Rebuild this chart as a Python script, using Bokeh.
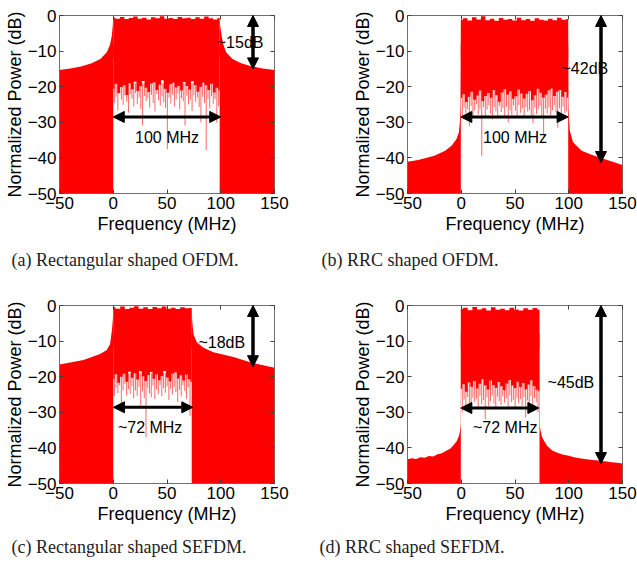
import numpy as np
from bokeh.plotting import figure
from bokeh.layouts import gridplot
from bokeh.models import Range1d, FixedTicker, LinearAxis, Arrow, NormalHead, Title
from bokeh.core.properties import value
from bokeh.embed import file_html
from bokeh.resources import INLINE

# ---------------- data ----------------
X_TICKS = [-50, 0, 50, 100, 150]
Y_TICKS = [-50, -40, -30, -20, -10, 0]
FLOOR_DB = -50

# (a) Rectangular shaped OFDM
A_left_f = [-50, -40, -30, -20, -12, -6, -3, -1.5, -0.5, 0]
A_left_db = [-15.3, -14.9, -14.3, -13.4, -12.2, -10.3, -8.2, -6.0, -3.0, -0.8]
A_right_f = [99, 99.5, 101, 102.5, 105, 111, 119, 129, 139, 150]
A_right_db = [-0.8, -3.0, -6.0, -8.2, -10.3, -12.2, -13.4, -14.3, -14.9, -15.3]
A_band = [0, 99]
A_top = [-0.6, -0.9, -0.4, -1.0, -0.7, -0.3, -0.9, -0.6, -1.1, -0.5, -0.8, -0.2, -0.9,
         -0.7, -1.0, -0.4, -0.8, -0.6, -1.0, -0.5, -0.9, -0.3, -0.8, -1.1, -0.7]
A_base = [-20.5, -19.2, -21.8, -20.1, -19.6, -22.3, -19.0, -20.7, -18.6, -21.2, -19.9, -18.4,
          -20.3, -21.5, -19.1, -18.8, -20.9, -19.4, -18.2, -20.6, -21.7, -19.3, -18.9, -20.2,
          -19.7, -21.1, -18.7, -19.8, -20.8, -18.5, -19.5, -21.4, -20.0, -18.9, -19.6, -20.9,
          -19.2, -21.6, -20.3, -21.0]
A_spike_span = [1, 98]
A_spike = [-24.5, -22.8, -26.7, -21.9, -23.6, -25.1, -22.4, -24.2, -27.3, -22.1, -23.4, -25.6,
           -21.8, -24.9, -23.0, -26.2, -30.9, -22.6, -24.0, -23.2, -25.9, -22.3, -24.6, -27.0,
           -22.0, -23.8, -25.3, -22.7, -24.4, -26.0, -37.5, -23.1, -24.8, -22.2, -25.5, -23.6,
           -21.9, -26.4, -23.3, -24.1, -30.9, -22.5, -25.0, -23.7, -26.8, -22.4, -24.3, -23.0,
           -25.7, -30.0, -22.9, -24.6, -37.8, -23.4, -26.1, -22.6, -24.8, -23.5, -30.2, -25.4]

# (b) RRC shaped OFDM
B_left_f = [-50, -40, -25, -15, -9, -4.4, -2.2, -1.3, -0.8, -0.4]
B_left_db = [-41.1, -40.6, -39.4, -38.0, -36.6, -34.7, -32.8, -30.0, -26.0, -1.2]
B_right_f = [99.5, 99.9, 100.5, 101, 104, 112, 120, 130, 140, 150]
B_right_db = [-1.2, -26.0, -30.0, -32.4, -35.6, -38.0, -39.0, -40.0, -41.0, -42.0]
B_band = [-0.4, 99.5]
B_top = [-1.2, -0.8, -1.4, -0.5, -1.1, -0.2, -1.3, -0.9, -1.5, -0.7, -1.2, -1.0, -1.4,
         -0.6, -1.3, -1.0, -1.5, -0.8, -1.2, -1.4, -0.9, -1.3, -0.6, -1.2, -1.0]
B_base = [-23.2, -22.1, -24.3, -22.8, -21.4, -23.7, -22.5, -21.1, -24.0, -22.6, -21.8, -23.1,
          -20.9, -22.4, -24.2, -21.6, -20.7, -22.2, -21.3, -23.4, -22.7, -20.8, -21.9, -23.3,
          -22.0, -21.2, -23.8, -22.4, -20.6, -21.7, -23.0, -22.2, -21.0, -20.5, -22.6, -21.4,
          -20.9, -22.8, -21.5, -23.1]
B_spike_span = [1, 98]
B_spike = [-28.6, -25.9, -27.4, -26.3, -31.0, -25.5, -28.1, -26.7, -24.9, -27.8, -26.2, -39.4,
           -25.7, -28.9, -26.4, -25.2, -27.6, -29.2, -25.8, -26.9, -28.3, -25.4, -27.1, -26.0,
           -28.7, -25.6, -30.0, -26.6, -27.9, -25.3, -26.8, -28.4, -25.1, -27.3, -26.1, -28.8,
           -25.7, -27.0, -26.5, -28.2, -30.3, -25.9, -27.7, -26.3, -25.4, -28.5, -33.5, -26.2,
           -27.5, -25.8, -28.0, -26.6, -25.3, -27.2, -31.5, -26.0, -28.6, -25.6, -27.4, -26.9]

# (c) Rectangular shaped SEFDM
C_left_f = [-50, -27.7, -12.2, -6, -2.9, -1.3, -0.4, 0]
C_left_db = [-16.6, -15.3, -13.6, -12.5, -10.8, -7.0, -4.0, -0.8]
C_right_f = [73, 73.5, 74.6, 77.7, 83.9, 93.2, 111.8, 130.4, 150]
C_right_db = [-0.8, -4.5, -8.0, -10.3, -11.9, -13.1, -14.5, -16.2, -17.5]
C_band = [0, 73]
C_top = [-0.5, -0.9, -0.3, -1.0, -0.6, -0.2, -0.9, -0.5, -1.0, -0.4, -0.8, -0.3, -0.9, -0.6, -1.0,
         -0.5, -0.8, -0.7]
C_base = [-20.6, -19.3, -21.7, -20.0, -19.2, -21.4, -18.6, -20.3, -19.0, -20.8, -18.5, -19.9,
          -21.2, -19.5, -18.7, -20.6, -19.3, -21.0, -19.8, -18.4, -20.2, -21.3, -19.1, -18.8,
          -20.5, -19.6, -21.1, -19.4, -20.7, -21.5]
C_spike_span = [1, 71.4]
C_spike = [-25.4, -23.1, -24.6, -22.4, -28.2, -23.8, -22.0, -25.3, -23.5, -24.8, -22.6, -26.1,
           -23.9, -25.4, -22.8, -28.2, -24.1, -26.0, -37.0, -23.3, -24.7, -25.8, -22.5, -26.3,
           -23.6, -24.9, -22.3, -25.5, -23.2, -24.5, -22.7, -26.6, -23.4, -25.0, -22.9, -24.3,
           -27.1, -23.7, -25.6, -22.4, -24.0, -26.2, -23.0, -31.0]

# (d) RRC shaped SEFDM
D_left_f = [-50, -46, -42, -38, -34, -30, -26, -22, -18, -14, -10, -7, -4, -2, -1, -0.6, -0.4]
D_left_db = [-43.2, -42.9, -43.1, -42.6, -42.8, -42.3, -42.4, -41.8, -41.5, -40.8, -40.2, -39.2,
             -38.0, -36.5, -35.0, -33.0, -1.0]
D_right_f = [72.8, 73.2, 73.8, 75, 77, 80, 85, 90, 95, 100, 105, 110, 115, 120, 125, 130, 135, 140,
             145, 150]
D_right_db = [-1.0, -34.0, -35.2, -36.8, -38.0, -39.5, -40.8, -41.4, -41.9, -42.2, -42.6, -42.9,
              -43.1, -43.3, -43.5, -43.6, -43.8, -44.0, -44.2, -44.4]
D_band = [-0.4, 72.8]
D_top = [-1.0, -0.6, -1.3, -0.4, -1.1, -0.8, -1.4, -0.5, -1.2, -0.9, -1.3, -0.6, -1.1, -1.4, -0.8,
         -1.2, -0.7, -1.1]
D_base = [-23.4, -22.1, -24.2, -21.6, -22.8, -21.2, -23.3, -22.0, -20.7, -22.4, -23.6, -21.1,
          -22.3, -23.1, -21.5, -22.7, -23.8, -21.9, -20.9, -22.5, -23.2, -21.4, -22.9, -21.8,
          -23.5, -22.2, -21.0, -22.6, -23.7, -24.1]
D_spike_span = [1, 71.4]
D_spike = [-30.0, -26.4, -28.1, -25.7, -27.5, -29.3, -25.9, -27.0, -26.2, -28.6, -25.4, -27.8,
           -26.6, -32.0, -25.8, -28.3, -26.9, -25.3, -27.6, -28.9, -25.6, -26.8, -28.0, -25.5,
           -27.3, -26.1, -28.4, -25.2, -27.1, -26.5, -28.7, -25.9, -27.4, -26.3, -28.2, -25.7,
           -31.5, -26.7, -27.9, -25.4, -28.5, -26.0, -27.2, -30.0]

# annotations: [frequency, top dB, bottom dB] of the level arrow, its text and text position
A_level = [130, 0, -15.0]
B_level = [130, 0, -41.3]
C_level = [130, 0, -17.2]
D_level = [130, 0, -44.4]
A_level_text = ["~15dB", 118, -7.5]
B_level_text = ["~42dB", 115, -15.0]
C_level_text = ["~18dB", 101, -10.3]
D_level_text = ["~45dB", 102, -21.6]
# bandwidth arrow: [start f, end f, dB] and text
A_bw = [0, 100, -28.5]
B_bw = [-0.4, 99.4, -28.5]
C_bw = [0.2, 74, -28.6]
D_bw = [-0.4, 72.2, -28.8]
A_bw_text = ["100 MHz", 50, -34.2]
B_bw_text = ["100 MHz", 50, -34.2]
C_bw_text = ["~72 MHz", 34.3, -34.2]
D_bw_text = ["~72 MHz", 40.9, -34.2]

CAPTIONS = ["(a) Rectangular shaped OFDM.", "(b) RRC shaped OFDM.",
            "(c) Rectangular shaped SEFDM.", "(d) RRC shaped SEFDM."]

SPIKE_START = -19.0
OVERLAP_LO = -12.0
OVERLAP_HI = -8.0

# ---------------- styling ----------------
RED = "#ff0000"
SANS = "Liberation Sans"
SERIF = "Liberation Serif"


def make_panel(left_f, left_db, right_f, right_db, band, top, base, spike_span, spikes,
               level, level_text, bw, bw_text, caption,
               b_left, b_right, b_bottom, cap_offset, cap_standoff):
    p = figure(frame_width=215, frame_height=178,
               x_range=Range1d(-50, 150), y_range=Range1d(-50, 0),
               output_backend="svg", toolbar_location=None,
               min_border_left=b_left, min_border_right=b_right,
               min_border_top=15, min_border_bottom=b_bottom,
               background_fill_color="white", border_fill_color="white")
    p.grid.visible = False
    p.outline_line_color = "#707070"
    p.outline_line_width = 1

    # spectrum fill
    p.varea(x=left_f, y1=[FLOOR_DB] * len(left_f), y2=left_db, fill_color=RED)
    p.varea(x=right_f, y1=[FLOOR_DB] * len(right_f), y2=right_db, fill_color=RED)
    tx = np.linspace(band[0], band[1], len(top))
    p.varea_step(x=tx, y1=[OVERLAP_LO] * len(top), y2=top, step_mode="center", fill_color=RED)
    bx = np.linspace(band[0], band[1], len(base))
    p.varea_step(x=bx, y1=base, y2=[OVERLAP_HI] * len(base), step_mode="center", fill_color=RED)
    sx = np.linspace(spike_span[0], spike_span[1], len(spikes))
    p.segment(x0=sx, y0=[SPIKE_START] * len(spikes), x1=sx, y1=spikes,
              line_color=RED, line_width=1, line_alpha=0.6)

    # arrows
    p.add_layout(Arrow(x_start=level[0], y_start=level[1], x_end=level[0], y_end=level[2],
                       line_width=3.5, line_color="black",
                       start=NormalHead(size=11, fill_color="black", line_color="black"),
                       end=NormalHead(size=11, fill_color="black", line_color="black")))
    p.add_layout(Arrow(x_start=bw[0], y_start=bw[2], x_end=bw[1], y_end=bw[2],
                       line_width=3, line_color="black",
                       start=NormalHead(size=11, fill_color="black", line_color="black"),
                       end=NormalHead(size=11, fill_color="black", line_color="black")))
    p.text(x=[level_text[1], bw_text[1]], y=[level_text[2], bw_text[2]],
           text=[level_text[0], bw_text[0]], text_font=value(SANS), text_font_size="16px",
           text_align="center", text_baseline="middle", text_color="black")

    # axes
    for ax in (p.xaxis[0], p.yaxis[0]):
        ax.major_tick_in = 4
        ax.major_tick_out = 0
        ax.minor_tick_line_color = None
        ax.axis_line_color = None
        ax.major_tick_line_color = "#404040"
        ax.major_label_text_font = SANS
        ax.major_label_text_font_size = "17px"
        ax.major_label_text_color = "black"
        ax.axis_label_text_font = SANS
        ax.axis_label_text_font_size = "18px"
        ax.axis_label_text_font_style = "normal"
        ax.axis_label_text_color = "black"
    p.xaxis.ticker = FixedTicker(ticks=X_TICKS, minor_ticks=[])
    p.yaxis.ticker = FixedTicker(ticks=Y_TICKS, minor_ticks=[])
    p.xaxis.axis_label = "Frequency (MHz)"
    p.yaxis.axis_label = "Normalized Power (dB)"
    p.xaxis.major_label_standoff = 3
    p.xaxis.axis_label_standoff = 2
    p.yaxis.major_label_standoff = 3
    p.yaxis.axis_label_standoff = 0

    for loc, ticks in (("above", X_TICKS), ("right", Y_TICKS)):
        ax = LinearAxis(ticker=FixedTicker(ticks=ticks, minor_ticks=[]),
                        major_tick_in=4, major_tick_out=0, axis_line_color=None,
                        major_tick_line_color="#404040", minor_tick_line_color=None,
                        major_label_text_font_size="0px", major_label_text_color=None,
                        major_label_standoff=0)
        p.add_layout(ax, loc)

    p.add_layout(Title(text=caption, align="left", offset=cap_offset,
                       text_font=SERIF, text_font_size="18px", text_font_style="normal",
                       text_color="#222222", standoff=cap_standoff), "below")
    return p


pa = make_panel(A_left_f, A_left_db, A_right_f, A_right_db, A_band, A_top, A_base, A_spike_span,
                A_spike, A_level, A_level_text, A_bw, A_bw_text, CAPTIONS[0],
                59, 44, 97, -48, 23)
pb = make_panel(B_left_f, B_left_db, B_right_f, B_right_db, B_band, B_top, B_base, B_spike_span,
                B_spike, B_level, B_level_text, B_bw, B_bw_text, CAPTIONS[1],
                89, 15, 97, -86, 23)
pc = make_panel(C_left_f, C_left_db, C_right_f, C_right_db, C_band, C_top, C_base, C_spike_span,
                C_spike, C_level, C_level_text, C_bw, C_bw_text, CAPTIONS[2],
                59, 44, 83, -48, 16)
pd = make_panel(D_left_f, D_left_db, D_right_f, D_right_db, D_band, D_top, D_base, D_spike_span,
                D_spike, D_level, D_level_text, D_bw, D_bw_text, CAPTIONS[3],
                89, 15, 83, -88, 16)

grid = gridplot([[pa, pb], [pc, pd]], toolbar_location=None)

open("out.html", "w").write(file_html(grid, INLINE))
